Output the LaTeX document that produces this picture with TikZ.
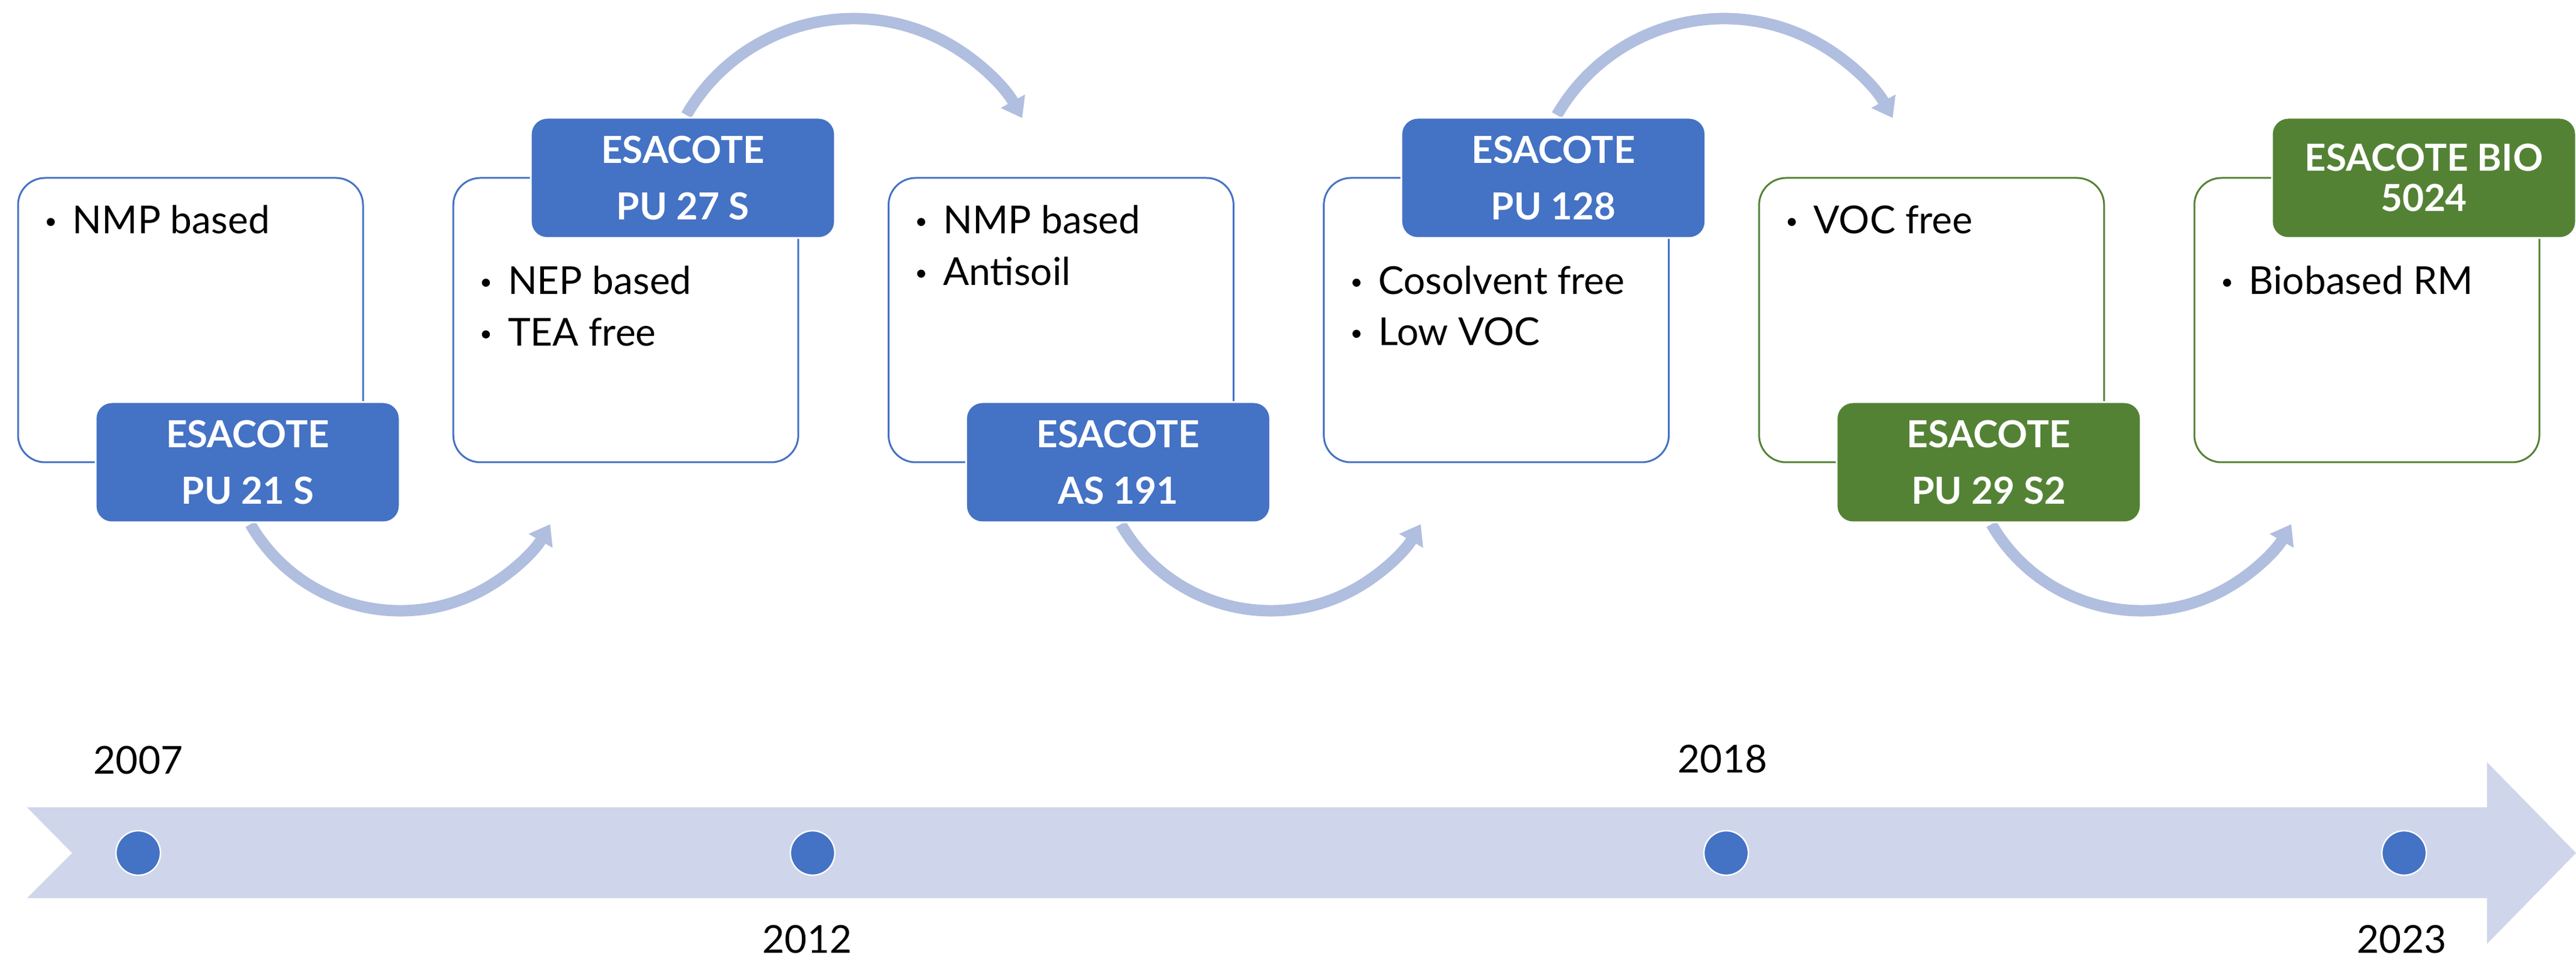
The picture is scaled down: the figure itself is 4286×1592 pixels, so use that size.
\documentclass[tikz,border=0pt]{standalone}
\usepackage{fontspec}
\setmainfont{Lato}
\usetikzlibrary{arrows.meta}
\definecolor{blu}{RGB}{68,114,196}
\definecolor{grn}{RGB}{84,130,53}
\definecolor{arccol}{RGB}{176,190,223}
\definecolor{bandcol}{RGB}{207,213,234}
\newcommand{\mybul}{\makebox[12.5pt][l]{\hspace{0.8pt}\raisebox{2.2pt}{\fontsize{9pt}{9pt}\selectfont •}}}
\begin{document}
\begin{tikzpicture}[x=0.25pt,y=0.25pt,
  infobox/.style={draw=blu, line width=0.75pt, rounded corners=11.25pt, minimum width=143.5pt, minimum height=118.25pt, fill=white, inner sep=0pt},
  greenbox/.style={infobox, draw=grn},
  lab/.style={fill=blu, draw=white, line width=0.75pt, rounded corners=6.75pt, minimum width=126.5pt, minimum height=50pt, text=white, align=center, inner sep=0pt, font=\bfseries\fontsize{15.5pt}{23.5pt}\selectfont},
  greenlab/.style={lab, fill=grn},
  bul/.style={anchor=base west, inner sep=0pt, font=\fontsize{16pt}{19pt}\selectfont},
  yearlbl/.style={inner sep=0pt, font=\fontsize{16pt}{19pt}\selectfont},
  dot/.style={circle, fill=blu, draw=white, line width=0.6pt, minimum size=18.5pt, inner sep=0pt},
  arcarrow/.style={draw=arccol, line width=4.75pt, -{Triangle[width=11pt,length=8pt]}}
]
\useasboundingbox (0,0) rectangle (4286,-1592);

% timeline band
\fill[bandcol] (45,-1343) -- (4138,-1343) -- (4138,-1268) -- (4286,-1419) -- (4138,-1570) -- (4138,-1494) -- (45,-1494) -- (120,-1419) -- cycle;
\node[dot] (d1) at (230,-1419) {};
\node[dot] (d2) at (1352,-1419) {};
\node[dot] (d3) at (2872,-1419) {};
\node[dot] (d4) at (4000,-1419) {};
\node[yearlbl] (y1) at (230,-1265) {2007};
\node[yearlbl] (y2) at (1343,-1563) {2012};
\node[yearlbl] (y3) at (2866,-1263) {2018};
\node[yearlbl] (y4) at (3996,-1563) {2023};

% boxes
\node[infobox] (b1) at (317,-532.5) {};
\node[infobox] (b2) at (1041.2,-532.5) {};
\node[infobox] (b3) at (1765.4,-532.5) {};
\node[infobox] (b4) at (2489.6,-532.5) {};
\node[greenbox] (b5) at (3213.8,-532.5) {};
\node[greenbox] (b6) at (3938,-532.5) {};

% curved arrows
\coordinate (a1) at (416.6,-872);
\coordinate (a2) at (1142,-191.5);
\coordinate (a3) at (1865,-872);
\coordinate (a4) at (2590.4,-191.5);
\coordinate (a5) at (3313.4,-872);
\draw[arcarrow] (a1) arc[start angle=210, end angle=330, radius=288];
\draw[arcarrow] (a2) arc[start angle=150, end angle=29, radius=321];
\draw[arcarrow] (a3) arc[start angle=210, end angle=330, radius=288];
\draw[arcarrow] (a4) arc[start angle=150, end angle=29, radius=321];
\draw[arcarrow] (a5) arc[start angle=210, end angle=330, radius=288];

% labels
\node[lab] (l1) at (412,-769) {ESACOTE\\PU 21 S};
\node[lab] (l2) at (1136.2,-296) {ESACOTE\\PU 27 S};
\node[lab] (l3) at (1860.4,-769) {ESACOTE\\AS 191};
\node[lab] (l4) at (2584.6,-296) {ESACOTE\\PU 128};
\node[greenlab] (l5) at (3308.8,-769) {ESACOTE\\PU 29 S2};
\node[greenlab, font=\bfseries\fontsize{15.5pt}{16.75pt}\selectfont] (l6) at (4033,-296) {ESACOTE BIO\\5024};

% bullet texts
\node[bul] (t1a) at (70,-389) {\mybul NMP based};
\node[bul] (t2a) at (794.2,-490) {\mybul NEP based};
\node[bul] (t2b) at (794.2,-576) {\mybul TEA free};
\node[bul] (t3a) at (1518.4,-389) {\mybul NMP based};
\node[bul] (t3b) at (1518.4,-475) {\mybul Antisoil};
\node[bul] (t4a) at (2242.6,-490) {\mybul Cosolvent free};
\node[bul] (t4b) at (2242.6,-575) {\mybul Low VOC};
\node[bul] (t5a) at (2966.8,-389) {\mybul VOC free};
\node[bul] (t6a) at (3691,-490) {\mybul Biobased RM};
\end{tikzpicture}
\end{document}
